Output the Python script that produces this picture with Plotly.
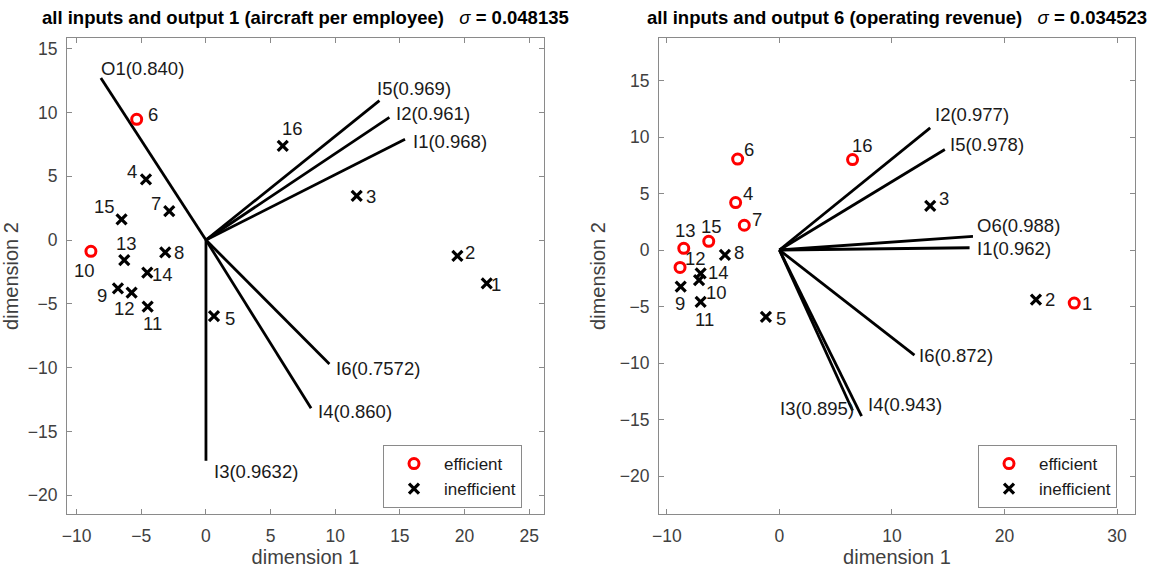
import plotly.graph_objects as go

# ---------------- data: panel 1 (all inputs and output 1) ----------------
p1_ids = ["1", "2", "3", "4", "5", "6", "7", "8", "9", "10", "11", "12", "13", "14", "15", "16"]
p1_x = [21.72, 19.45, 11.66, -4.64, 0.62, -5.36, -2.84, -3.15, -6.81, -8.90, -4.51, -5.75, -6.32, -4.54, -6.53, 5.94]
p1_y = [-3.40, -1.25, 3.45, 4.75, -5.96, 9.46, 2.27, -0.97, -3.79, -0.89, -5.22, -4.13, -1.57, -2.56, 1.62, 7.37]
p1_eff = [False, False, False, False, False, True, False, False, False, True, False, False, False, False, False, False]

p1_vec_names = ["O1(0.840)", "I5(0.969)", "I2(0.961)", "I1(0.968)", "I6(0.7572)", "I4(0.860)", "I3(0.9632)"]
p1_vec_x = [-8.13, 13.42, 14.19, 15.40, 9.55, 8.13, 0.0]
p1_vec_y = [12.70, 10.92, 9.61, 7.89, -9.72, -13.19, -17.30]

# ---------------- data: panel 2 (all inputs and output 6) ----------------
p2_ids = ["1", "2", "3", "4", "5", "6", "7", "8", "9", "10", "11", "12", "13", "14", "15", "16"]
p2_x = [26.2, 22.8, 13.4, -3.89, -1.20, -3.71, -3.12, -4.84, -8.77, -7.14, -7.00, -8.83, -8.50, -7.00, -6.28, 6.5]
p2_y = [-4.7, -4.4, 3.9, 4.20, -5.92, 8.05, 2.19, -0.44, -3.25, -2.66, -4.58, -1.54, 0.15, -2.07, 0.77, 8.0]
p2_eff = [True, False, False, True, False, True, True, False, False, False, False, True, True, False, True, True]

p2_vec_names = ["I2(0.977)", "I5(0.978)", "O6(0.988)", "I1(0.962)", "I6(0.872)", "I3(0.895)", "I4(0.943)"]
p2_vec_x = [13.4, 14.7, 17.2, 16.9, 12.0, 6.5, 7.3]
p2_vec_y = [10.8, 8.9, 1.2, 0.2, -9.3, -14.2, -14.7]

titles = [
    "<b>all inputs and output 1 (aircraft per employee)</b>   <i>σ</i> <b>= 0.048135</b>",
    "<b>all inputs and output 6 (operating revenue)</b>   <i>σ</i> <b>= 0.034523</b>",
]

# ---------------- label placement (pixel offsets from each mark) ----------------
p1_pt_off = {"1": (9, 1), "2": (13, -3), "3": (14, 1), "4": (-14, -8), "5": (16, 2), "6": (16, -5),
             "7": (-13, -8), "8": (14, 0), "9": (-16, 7), "10": (-6, 19), "11": (5, 17), "12": (-7, 16),
             "13": (2, -17), "14": (15, 2), "15": (-17, -13), "16": (10, -17)}
p2_pt_off = {"1": (13, 0), "2": (14, 0), "3": (14, -7), "4": (12, -9), "5": (15, 2), "6": (11, -10),
             "7": (13, -6), "8": (14, -2), "9": (-1, 17), "10": (17, 12), "11": (4, 18), "12": (15, -9),
             "13": (2, -18), "14": (18, -1), "15": (3, -15), "16": (10, -14)}
# (anchor, dx, dy) for vector labels
p1_vec_off = [("left", -2, -9), ("left", -4, -12), ("left", 5, -4), ("left", 6, 2),
              ("left", 5, 4), ("left", 5, 3), ("left", 6, 11)]
p2_vec_off = [("left", 3, -13), ("left", 3, -5), ("left", 2, -11), ("left", 5, 1),
              ("left", 3, 0), ("right", 3, -2), ("left", 4, -12)]

FONT = "Liberation Sans, Arial, sans-serif"
BLACK = "#000000"
RED = "#ff0000"
TXT = "#1a1a1a"

fig = go.Figure()


def add_panel(n, ids, xs, ys, eff, vnames, vx, vy, pt_off, vec_off, legend_name):
    xa = "x" if n == 1 else "x2"
    ya = "y" if n == 1 else "y2"
    # loading vectors from the origin
    for name, ex, ey in zip(vnames, vx, vy):
        fig.add_trace(go.Scatter(x=[0, ex], y=[0, ey], mode="lines", xaxis=xa, yaxis=ya,
                                 line=dict(color=BLACK, width=2.8), showlegend=False,
                                 hoverinfo="skip"))
    ex_x = [x for x, e in zip(xs, eff) if e]
    ex_y = [y for y, e in zip(ys, eff) if e]
    in_x = [x for x, e in zip(xs, eff) if not e]
    in_y = [y for y, e in zip(ys, eff) if not e]
    fig.add_trace(go.Scatter(x=ex_x, y=ex_y, mode="markers", name="efficient", xaxis=xa, yaxis=ya,
                             marker=dict(symbol="circle-open", size=10, color=RED,
                                         line=dict(color=RED, width=3)),
                             legend=legend_name))
    fig.add_trace(go.Scatter(x=in_x, y=in_y, mode="markers", name="inefficient", xaxis=xa, yaxis=ya,
                             marker=dict(symbol="x-thin-open", size=10, color=BLACK,
                                         line=dict(color=BLACK, width=3.2)),
                             legend=legend_name))
    # point labels
    for pid, x, y in zip(ids, xs, ys):
        dx, dy = pt_off[pid]
        fig.add_annotation(x=x, y=y, xref=xa, yref=ya, text=pid, showarrow=False,
                           xanchor="center", yanchor="middle", xshift=dx, yshift=-dy,
                           font=dict(family=FONT, size=18.5, color=TXT))
    # vector labels
    for name, ex, ey, (anc, dx, dy) in zip(vnames, vx, vy, vec_off):
        fig.add_annotation(x=ex, y=ey, xref=xa, yref=ya, text=name, showarrow=False,
                           xanchor=anc, yanchor="middle", xshift=dx, yshift=-dy,
                           font=dict(family=FONT, size=18.5, color=TXT))


add_panel(1, p1_ids, p1_x, p1_y, p1_eff, p1_vec_names, p1_vec_x, p1_vec_y,
          p1_pt_off, p1_vec_off, "legend")
add_panel(2, p2_ids, p2_x, p2_y, p2_eff, p2_vec_names, p2_vec_x, p2_vec_y,
          p2_pt_off, p2_vec_off, "legend2")

W, H = 1156, 573
axis_common = dict(showline=True, linecolor="#8a8a8a", linewidth=1, mirror="ticks",
                   ticks="inside", ticklen=5, tickcolor="#8a8a8a", showgrid=False, zeroline=False,
                   automargin=False,
                   tickfont=dict(family=FONT, size=17.5, color="#404040"),
                   title_font=dict(family=FONT, size=20, color="#404040"))

box1 = (67, 544)
box2 = (659, 1135)
top, bot = 38, 514

fig.update_layout(
    width=W, height=H, margin=dict(l=0, r=0, t=0, b=0),
    paper_bgcolor="white", plot_bgcolor="white",
    xaxis=dict(domain=[box1[0] / W, box1[1] / W], range=[-10.75, 26.15], dtick=5, tick0=0,
               anchor="y", title_text="dimension 1", title_standoff=4, ticklabelstandoff=6,
               **axis_common),
    yaxis=dict(domain=[1 - bot / H, 1 - top / H], range=[-21.47, 15.83], dtick=5, tick0=0,
               anchor="x", title_text="dimension 2", title_standoff=8, ticklabelstandoff=5,
               **axis_common),
    xaxis2=dict(domain=[box2[0] / W, box2[1] / W], range=[-10.7, 31.6], dtick=10, tick0=0,
                anchor="y2", title_text="dimension 1", title_standoff=4, ticklabelstandoff=6,
                **axis_common),
    yaxis2=dict(domain=[1 - bot / H, 1 - top / H], range=[-23.36, 18.76], dtick=5, tick0=0,
                anchor="x2", title_text="dimension 2", title_standoff=8, ticklabelstandoff=5,
                **axis_common),
    legend=dict(x=383 / W, y=1 - 445 / H, xanchor="left", yanchor="top",
                bgcolor="white", bordercolor="#8a8a8a", borderwidth=1, itemwidth=50,
                font=dict(family=FONT, size=17, color=TXT), tracegroupgap=0),
    legend2=dict(x=978 / W, y=1 - 445 / H, xanchor="left", yanchor="top",
                 bgcolor="white", bordercolor="#8a8a8a", borderwidth=1, itemwidth=50,
                 font=dict(family=FONT, size=17, color=TXT), tracegroupgap=0),
    showlegend=True,
)

for t, (a, b) in zip(titles, [box1, box2]):
    fig.add_annotation(x=(a + b) / 2 / W, y=1 - 17 / H, xref="paper", yref="paper", text=t,
                       showarrow=False, xanchor="center", yanchor="middle",
                       font=dict(family=FONT, size=18.5, color="#000000"))

fig.write_html("out.html")
